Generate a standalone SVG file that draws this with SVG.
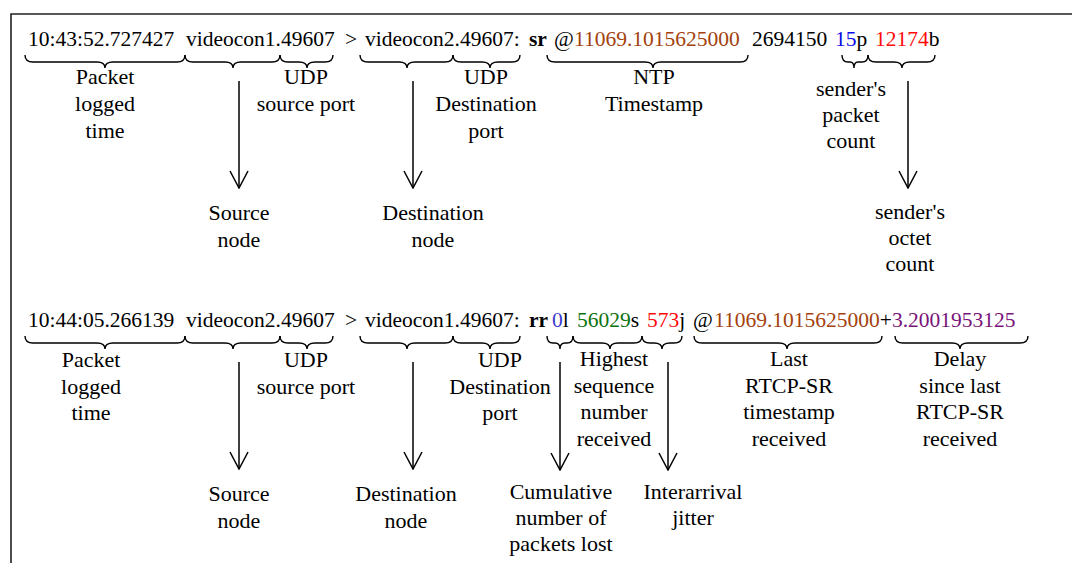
<svg xmlns="http://www.w3.org/2000/svg" width="1072" height="563" viewBox="0 0 1072 563">
  <style>
    .log { font-family: "Liberation Serif", "Times New Roman", serif; font-size: 21.5px; fill: #000; }
    .lbl { font-family: "Liberation Serif", "Times New Roman", serif; font-size: 22px; fill: #000; text-anchor: middle; }
    .b { font-weight: bold; }
    .brown { fill: #a3420e; }
    .blue { fill: #0a0ae6; }
    .blue2 { fill: #3c3cd0; }
    .red { fill: #ff0a0a; }
    .green { fill: #0e740e; }
    .purple { fill: #7a137a; }
    .brace { fill: none; stroke: #000; stroke-width: 1.4; }
    .arrow { fill: none; stroke: #000; stroke-width: 1.5; marker-end: url(#vhead); }
    .frame { fill: none; stroke: #222; stroke-width: 1.6; }
  </style>
  <defs>
    <marker id="vhead" markerUnits="userSpaceOnUse" markerWidth="20" markerHeight="22" refX="19" refY="11" orient="auto" viewBox="0 0 20 22">
      <path d="M2,2 L19,11 L2,20" fill="none" stroke="#000" stroke-width="1.5"/>
    </marker>
  </defs>
  <rect width="1072" height="563" fill="#fff"/>
  <path class="frame" d="M11,563 L11,14 L1072,14"/>

  <g id="log-sr">
    <text class="log" y="46">
      <tspan x="28">10:43:52.727427</tspan>
      <tspan x="186">videocon1.49607</tspan>
      <tspan x="345">&gt;</tspan>
      <tspan x="365">videocon2.49607:</tspan>
      <tspan x="529" class="b">sr</tspan>
      <tspan x="554">@</tspan>
      <tspan x="574" class="brown">11069.1015625000</tspan>
      <tspan x="752">2694150</tspan>
      <tspan x="835" class="blue">15</tspan><tspan>p</tspan>
      <tspan x="875" class="red">12174</tspan><tspan>b</tspan>
    </text>
  </g>

  <g id="log-rr">
    <text class="log" y="327">
      <tspan x="28">10:44:05.266139</tspan>
      <tspan x="186">videocon2.49607</tspan>
      <tspan x="345">&gt;</tspan>
      <tspan x="365">videocon1.49607:</tspan>
      <tspan x="529" class="b">rr</tspan>
      <tspan x="552" class="blue2">0</tspan><tspan>l</tspan>
      <tspan x="577" class="green">56029</tspan><tspan>s</tspan>
      <tspan x="647" class="red">573</tspan><tspan>j</tspan>
      <tspan x="693">@</tspan>
      <tspan x="714" class="brown">11069.1015625000</tspan><tspan>+</tspan><tspan class="purple">3.2001953125</tspan>
    </text>
  </g>

  <g id="connectors">
    <!-- braces, line 1 -->
    <path class="brace" d="M25,55 Q25,62 33,62 L97,62 Q105,62 105,68 Q105,62 113,62 L177,62 Q185,62 185,55"/>
    <path class="brace" d="M185,55 Q185,62 193,62 L225,62 Q233,62 233,68 Q233,62 241,62 L272,62 Q280,62 280,55"/>
    <path class="brace" d="M280,55 Q280,62 288,62 L299,62 Q307,62 307,68 Q307,62 315,62 L325,62 Q333,62 333,55"/>
    <path class="brace" d="M360,55 Q360,62 368,62 L399,62 Q407,62 407,68 Q407,62 415,62 L445,62 Q453,62 453,55"/>
    <path class="brace" d="M453,55 Q453,62 461,62 L482,62 Q490,62 490,68 Q490,62 498,62 L512,62 Q520,62 520,55"/>
    <path class="brace" d="M547,55 Q547,62 555,62 L645,62 Q653,62 653,68 Q653,62 661,62 L740,62 Q748,62 748,55"/>
    <path class="brace" d="M842,55 Q842,62 848,62 L850,62 Q854,62 854,68 Q854,62 858,62 L862,62 Q868,62 868,55"/>
    <path class="brace" d="M868,55 Q868,62 876,62 L894,62 Q902,62 902,68 Q902,62 910,62 L927,62 Q935,62 935,55"/>
    <!-- braces, line 2 -->
    <path class="brace" d="M25,336 Q25,343 33,343 L97,343 Q105,343 105,349 Q105,343 113,343 L177,343 Q185,343 185,336"/>
    <path class="brace" d="M185,336 Q185,343 193,343 L225,343 Q233,343 233,349 Q233,343 241,343 L272,343 Q280,343 280,336"/>
    <path class="brace" d="M280,336 Q280,343 288,343 L299,343 Q307,343 307,349 Q307,343 315,343 L325,343 Q333,343 333,336"/>
    <path class="brace" d="M360,336 Q360,343 368,343 L399,343 Q407,343 407,349 Q407,343 415,343 L445,343 Q453,343 453,336"/>
    <path class="brace" d="M453,336 Q453,343 461,343 L482,343 Q490,343 490,349 Q490,343 498,343 L512,343 Q520,343 520,336"/>
    <path class="brace" d="M547,336 Q547,343 553,343 L555,343 Q560,343 560,349 Q560,343 565,343 L567,343 Q573,343 573,336"/>
    <path class="brace" d="M573,336 Q573,343 581,343 L602,343 Q610,343 610,349 Q610,343 618,343 L634,343 Q642,343 642,336"/>
    <path class="brace" d="M642,336 Q642,343 650,343 L654,343 Q662,343 662,349 Q662,343 670,343 L674,343 Q682,343 682,336"/>
    <path class="brace" d="M694,336 Q694,343 702,343 L779,343 Q787,343 787,349 Q787,343 795,343 L874,343 Q882,343 882,336"/>
    <path class="brace" d="M895,336 Q895,343 903,343 L952,343 Q960,343 960,349 Q960,343 968,343 L1020,343 Q1028,343 1028,336"/>
    <!-- arrows, line 1 -->
    <path class="arrow" d="M239,81 L239,188"/>
    <path class="arrow" d="M413,81 L413,188"/>
    <path class="arrow" d="M908,81 L908,188"/>
    <!-- arrows, line 2 -->
    <path class="arrow" d="M239,362 L239,469"/>
    <path class="arrow" d="M413,362 L413,469"/>
    <path class="arrow" d="M560,362 L560,470"/>
    <path class="arrow" d="M668,362 L668,470"/>
  </g>

  <!-- line 1 labels -->
  <g id="sr-packet-logged-time">
    <text class="lbl" x="105" y="84"><tspan x="105">Packet</tspan><tspan x="105" dy="27">logged</tspan><tspan x="105" dy="27">time</tspan></text>
  </g>
  <g id="sr-udp-source-port">
    <text class="lbl" x="306" y="84"><tspan x="306">UDP</tspan><tspan x="306" dy="27">source port</tspan></text>
  </g>
  <g id="sr-udp-destination-port">
    <text class="lbl" x="486" y="84"><tspan x="486">UDP</tspan><tspan x="486" dy="27">Destination</tspan><tspan x="486" dy="27">port</tspan></text>
  </g>
  <g id="sr-ntp-timestamp">
    <text class="lbl" x="654" y="84"><tspan x="654">NTP</tspan><tspan x="654" dy="27">Timestamp</tspan></text>
  </g>
  <g id="sr-packet-count">
    <text class="lbl" x="851" y="96"><tspan x="851">sender's</tspan><tspan x="851" dy="26">packet</tspan><tspan x="851" dy="26">count</tspan></text>
  </g>
  <g id="sr-source-node">
    <text class="lbl" x="239" y="220"><tspan x="239">Source</tspan><tspan x="239" dy="27">node</tspan></text>
  </g>
  <g id="sr-destination-node">
    <text class="lbl" x="433" y="220"><tspan x="433">Destination</tspan><tspan x="433" dy="27">node</tspan></text>
  </g>
  <g id="sr-octet-count">
    <text class="lbl" x="910" y="219"><tspan x="910">sender's</tspan><tspan x="910" dy="26">octet</tspan><tspan x="910" dy="26">count</tspan></text>
  </g>

  <!-- line 2 labels -->
  <g id="rr-packet-logged-time">
    <text class="lbl" x="91" y="367"><tspan x="91">Packet</tspan><tspan x="91" dy="26.5">logged</tspan><tspan x="91" dy="26.5">time</tspan></text>
  </g>
  <g id="rr-udp-source-port">
    <text class="lbl" x="306" y="367"><tspan x="306">UDP</tspan><tspan x="306" dy="26.5">source port</tspan></text>
  </g>
  <g id="rr-udp-destination-port">
    <text class="lbl" x="500" y="367"><tspan x="500">UDP</tspan><tspan x="500" dy="26.5">Destination</tspan><tspan x="500" dy="26.5">port</tspan></text>
  </g>
  <g id="rr-highest-seq">
    <text class="lbl" x="614" y="366"><tspan x="614">Highest</tspan><tspan x="614" dy="26.7">sequence</tspan><tspan x="614" dy="26.7">number</tspan><tspan x="614" dy="26.7">received</tspan></text>
  </g>
  <g id="rr-last-sr-timestamp">
    <text class="lbl" x="789" y="366"><tspan x="789">Last</tspan><tspan x="789" dy="26.7">RTCP-SR</tspan><tspan x="789" dy="26.7">timestamp</tspan><tspan x="789" dy="26.7">received</tspan></text>
  </g>
  <g id="rr-delay-since-last-sr">
    <text class="lbl" x="960" y="366"><tspan x="960">Delay</tspan><tspan x="960" dy="26.7">since last</tspan><tspan x="960" dy="26.7">RTCP-SR</tspan><tspan x="960" dy="26.7">received</tspan></text>
  </g>
  <g id="rr-source-node">
    <text class="lbl" x="239" y="501"><tspan x="239">Source</tspan><tspan x="239" dy="27">node</tspan></text>
  </g>
  <g id="rr-destination-node">
    <text class="lbl" x="406" y="501"><tspan x="406">Destination</tspan><tspan x="406" dy="27">node</tspan></text>
  </g>
  <g id="rr-cumulative-lost">
    <text class="lbl" x="561" y="499"><tspan x="561">Cumulative</tspan><tspan x="561" dy="26">number of</tspan><tspan x="561" dy="26">packets lost</tspan></text>
  </g>
  <g id="rr-interarrival-jitter">
    <text class="lbl" x="693" y="499"><tspan x="693">Interarrival</tspan><tspan x="693" dy="26">jitter</tspan></text>
  </g>
</svg>
